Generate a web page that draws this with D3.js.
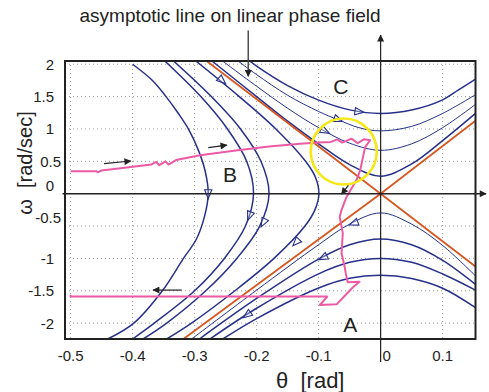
<!DOCTYPE html>
<html>
<head>
<meta charset="utf-8">
<script src="https://cdn.jsdelivr.net/npm/d3@7"></script>
<style>
  body { margin: 0; background: #fff; }
  text { font-family: Arial, "Liberation Sans", Helvetica, sans-serif; fill: #222; white-space: pre; }
</style>
</head>
<body>
<svg id="chart" width="489" height="392"></svg>
<script>
// ---- axis ticks ----
const thetaTicks = [-0.5, -0.4, -0.3, -0.2, -0.1, 0, 0.1];
const omegaTicks = [2, 1.5, 1, 0.5, 0, -0.5, -1, -1.5, -2];

// ---- asymptotes of the linear phase field (theta, omega) ----
const asymptoteFall = [[-0.2806, 2.05], [0, 0], [0.1535, -1.13]];
const asymptoteRise = [[-0.318, -2.245], [0, 0], [0.1535, 1.13]];

// ---- trajectories, region B (swing back) ----
const trajB1 = [[-0.400, 2.00], [-0.368, 1.75], [-0.346, 1.5], [-0.327, 1.25], [-0.310, 1.0], [-0.293, 0.65], [-0.283, 0.35], [-0.278, 0], [-0.284, -0.35], [-0.297, -0.7], [-0.318, -1.0], [-0.352, -1.5], [-0.398, -2.0], [-0.44, -2.245]];
const trajB2 = [[-0.348, 2.05], [-0.29, 1.5], [-0.247, 1.0], [-0.216, 0.5], [-0.205, 0], [-0.218, -0.5], [-0.252, -1.0], [-0.30, -1.5], [-0.365, -2.0], [-0.40, -2.245]];
const trajB3 = [[-0.334, 2.05], [-0.273, 1.5], [-0.226, 1.0], [-0.193, 0.5], [-0.18, 0], [-0.195, -0.5], [-0.232, -1.0], [-0.282, -1.5], [-0.345, -2.0], [-0.383, -2.245]];
const trajB4 = [[-0.298, 2.05], [-0.228, 1.5], [-0.169, 1.0], [-0.121, 0.5], [-0.105, 0.25], [-0.0995, 0], [-0.106, -0.25], [-0.122, -0.5], [-0.172, -1.0], [-0.235, -1.5], [-0.305, -2.0], [-0.345, -2.245]];

// ---- trajectories, region C (pass over the top) ----
const trajC1 = [[-0.211, 2.05], [-0.2, 1.97], [-0.15, 1.67], [-0.1, 1.445], [-0.05, 1.295], [0, 1.24], [0.05, 1.293], [0.1, 1.45], [0.125, 1.6], [0.153, 1.77]];
const trajC2 = [[-0.230, 2.05], [-0.2, 1.84], [-0.15, 1.52], [-0.1, 1.27], [-0.068, 1.14], [-0.035, 1.02], [0, 0.97], [0.05, 1.04], [0.1, 1.24], [0.153, 1.53]];
const trajC3 = [[-0.255, 2.05], [-0.2, 1.66], [-0.15, 1.32], [-0.1, 1.02], [-0.05, 0.78], [0, 0.67], [0.05, 0.77], [0.1, 1.02], [0.153, 1.38]];
const trajC4 = [[-0.272, 2.05], [-0.2, 1.50], [-0.15, 1.12], [-0.1, 0.77], [-0.05, 0.45], [0, 0.27], [0.05, 0.46], [0.1, 0.82], [0.153, 1.24]];

// ---- trajectories, region A (fall backwards) ----
const trajA1 = [[-0.3048, -2.245], [-0.2, -1.49], [-0.1, -0.788], [-0.05, -0.4705], [0, -0.297], [0.05, -0.47], [0.1, -0.80], [0.153, -1.27]];
const trajA2 = [[-0.2922, -2.245], [-0.2, -1.619], [-0.1, -1.011], [-0.05, -0.789], [0, -0.70], [0.05, -0.79], [0.1, -1.03], [0.153, -1.40]];
const trajA3 = [[-0.2753, -2.245], [-0.2, -1.77], [-0.1, -1.238], [-0.05, -1.06], [0, -1.0], [0.05, -1.06], [0.1, -1.24], [0.153, -1.49]];
const trajA4 = [[-0.2545, -2.245], [-0.2, -1.929], [-0.1, -1.456], [-0.05, -1.306], [0, -1.26], [0.05, -1.31], [0.1, -1.46], [0.153, -1.76]];

// ---- measured motion (theta, omega) ----
const measured = [[-0.5, 0.347], [-0.458, 0.347], [-0.456, 0.33], [-0.45, 0.36], [-0.403, 0.414], [-0.37, 0.45], [-0.362, 0.49], [-0.357, 0.44], [-0.347, 0.50], [-0.342, 0.45], [-0.33, 0.52], [-0.291, 0.594], [-0.24, 0.66], [-0.18, 0.73], [-0.13, 0.77], [-0.1, 0.79], [-0.08, 0.80], [-0.07, 0.84], [-0.062, 0.79], [-0.047, 0.85], [-0.037, 0.78], [-0.027, 0.84], [-0.017, 0.826], [-0.025, 0.72], [-0.033, 0.36], [-0.039, 0.21], [-0.047, 0.08], [-0.055, -0.05], [-0.063, -0.25], [-0.066, -0.36], [-0.061, -0.61], [-0.063, -0.92], [-0.058, -1.13], [-0.056, -1.24], [-0.053, -1.37], [-0.034, -1.36], [-0.045, -1.45], [-0.071, -1.71], [-0.098, -1.72], [-0.086, -1.59], [-0.5, -1.59], [-0.5, -1.56]];

// ---- flow direction markers on trajectories: [theta, omega] -> [theta, omega] ----
const flowMarks = [
  [[-0.278, 0.05], [-0.278, -0.05]],
  [[-0.209, -0.28], [-0.214, -0.40]],
  [[-0.186, -0.39], [-0.192, -0.50]],
  [[-0.131, -0.70], [-0.141, -0.80]],
  [[-0.262, 1.80], [-0.25, 1.70]],
  [[-0.045, 1.28], [-0.025, 1.255]],
  [[-0.078, 1.18], [-0.060, 1.11]],
  [[-0.098, 1.01], [-0.082, 0.93]],
  [[-0.036, -0.43], [-0.05, -0.48]],
  [[-0.085, -0.95], [-0.1, -1.02]],
  [[-0.208, -1.82], [-0.222, -1.92]]
];

// ---- hand-drawn black arrows: [from, to] ----
const noteArrows = [
  [[-0.446, 0.465], [-0.403, 0.505]],
  [[-0.278, 0.713], [-0.248, 0.749]],
  [[-0.321, -1.489], [-0.367, -1.489]],
  [[-0.052, 0.13], [-0.063, -0.008]]
];
const calloutArrow = [[-0.2135, 2.52], [-0.2135, 1.815]];
const highlight = { theta: -0.0595, omega: 0.651, r: 0.51 };
const regionLabels = [["C", -0.064, 1.65], ["B", -0.243, 0.30], ["A", -0.049, -2.02]];
const titleText = "asymptotic line on linear phase field";
const xTitle = "\u03b8  [rad]";
const yTitle = "\u03c9  [rad/sec]";

// ---- layout ----
const svg = d3.select("#chart");
const x = d3.scaleLinear().domain([-0.509, 0.153]).range([65, 475.5]);
const y = d3.scaleLinear().domain([-2.245, 2.05]).range([339, 61]);
const navy = "#27308a", orange = "#d8561f", pink = "#ec5aa5";

const defs = svg.append("defs");
defs.append("clipPath").attr("id", "plot")
  .append("rect").attr("x", x(-0.509)).attr("y", y(2.05))
  .attr("width", x(0.153) - x(-0.509)).attr("height", y(-2.245) - y(2.05));
defs.append("marker").attr("id", "blackHead").attr("viewBox", "0 0 10 10")
  .attr("refX", 9).attr("refY", 5).attr("markerWidth", 9).attr("markerHeight", 7)
  .attr("markerUnits", "userSpaceOnUse").attr("orient", "auto")
  .append("path").attr("d", "M0,0L10,5L0,10z").attr("fill", "#222");

// grid
const grid = svg.append("g").attr("stroke", "#9a9a9a").attr("stroke-width", 1).attr("stroke-dasharray", "1,3");
grid.selectAll("line.v").data(thetaTicks).join("line").attr("class", "v")
  .attr("x1", d => x(d)).attr("x2", d => x(d)).attr("y1", y(2.05)).attr("y2", y(-2.245));
grid.selectAll("line.h").data(omegaTicks).join("line").attr("class", "h")
  .attr("y1", d => y(d)).attr("y2", d => y(d)).attr("x1", x(-0.509)).attr("x2", x(0.153));

const plot = svg.append("g").attr("clip-path", "url(#plot)");
const line = d3.line().x(d => x(d[0])).y(d => y(d[1])).curve(d3.curveCatmullRom.alpha(0.5));
const straight = d3.line().x(d => x(d[0])).y(d => y(d[1]));

const thick = [trajB1, trajB2, trajB3, trajB4, trajC1, trajC4, trajA2, trajA3, trajA4];
const thin = [trajC2, trajC3, trajA1];
plot.selectAll("path.thin").data(thin).join("path").attr("class", "thin")
  .attr("d", line).attr("fill", "none").attr("stroke", navy).attr("stroke-width", 1);
plot.selectAll("path.thick").data(thick).join("path").attr("class", "thick")
  .attr("d", line).attr("fill", "none").attr("stroke", navy).attr("stroke-width", 1.5);

plot.selectAll("path.asym").data([asymptoteFall, asymptoteRise]).join("path").attr("class", "asym")
  .attr("d", straight).attr("fill", "none").attr("stroke", orange).attr("stroke-width", 1.8);

// open triangular flow markers
plot.selectAll("path.flow").data(flowMarks).join("path").attr("class", "flow")
  .attr("d", "M5,0L-4,-3.6L-4,3.6Z")
  .attr("transform", d => {
    const [p, q] = d;
    const cx = (x(p[0]) + x(q[0])) / 2, cy = (y(p[1]) + y(q[1])) / 2;
    const ang = Math.atan2(y(q[1]) - y(p[1]), x(q[0]) - x(p[0])) * 180 / Math.PI;
    return `translate(${cx},${cy}) rotate(${ang})`;
  })
  .attr("fill", "#fff").attr("fill-opacity", 0.3).attr("stroke", navy).attr("stroke-width", 1.1);

// measured path
svg.append("path").datum(measured).attr("d", straight).attr("fill", "none")
  .attr("stroke", pink).attr("stroke-width", 2).attr("stroke-linejoin", "round");

// highlight ring
svg.append("circle").attr("cx", x(highlight.theta)).attr("cy", y(highlight.omega))
  .attr("r", y(0) - y(highlight.r)).attr("fill", "none").attr("stroke", "#f4e81a").attr("stroke-width", 2.6);

// frame
svg.append("rect").attr("x", x(-0.509)).attr("y", y(2.05))
  .attr("width", x(0.153) - x(-0.509)).attr("height", y(-2.245) - y(2.05))
  .attr("fill", "none").attr("stroke", "#222").attr("stroke-width", 2);

// coordinate axes through the origin
svg.append("line").attr("x1", x(-0.513)).attr("x2", x(0.170)).attr("y1", y(0)).attr("y2", y(0))
  .attr("stroke", "#222").attr("stroke-width", 1.4).attr("marker-end", "url(#blackHead)");
svg.append("line").attr("x1", x(0)).attr("x2", x(0)).attr("y1", y(-2.6)).attr("y2", y(2.45))
  .attr("stroke", "#222").attr("stroke-width", 1.2).attr("marker-end", "url(#blackHead)");

// notes
svg.selectAll("line.note").data(noteArrows).join("line").attr("class", "note")
  .attr("x1", d => x(d[0][0])).attr("y1", d => y(d[0][1])).attr("x2", d => x(d[1][0])).attr("y2", d => y(d[1][1]))
  .attr("stroke", "#222").attr("stroke-width", 1.2).attr("marker-end", "url(#blackHead)");
svg.append("line").attr("x1", x(calloutArrow[0][0])).attr("y1", y(calloutArrow[0][1]))
  .attr("x2", x(calloutArrow[1][0])).attr("y2", y(calloutArrow[1][1]))
  .attr("stroke", "#444").attr("stroke-width", 1.4).attr("marker-end", "url(#blackHead)");

svg.append("text").attr("x", 230).attr("y", 22).attr("text-anchor", "middle")
  .attr("font-size", 19).text(titleText);

svg.selectAll("text.region").data(regionLabels).join("text").attr("class", "region")
  .attr("x", d => x(d[1])).attr("y", d => y(d[2])).attr("text-anchor", "middle")
  .attr("dy", "0.36em").attr("font-size", 21).text(d => d[0]);

// tick labels (the two next to the theta axis are nudged up off the axis line)
svg.selectAll("text.yt").data(omegaTicks).join("text").attr("class", "yt")
  .attr("x", d => (Math.abs(d) === 0.5 ? 61 : 54))
  .attr("y", d => y(d) - (d === 0 || d === -0.5 ? 8 : 0)).attr("dy", "0.36em")
  .attr("text-anchor", "end").attr("font-size", 15).text(d => String(d));
svg.selectAll("text.xt").data(thetaTicks).join("text").attr("class", "xt")
  .attr("x", d => x(d) + (d === 0 ? 6 : 0)).attr("y", 361).attr("text-anchor", "middle")
  .attr("font-size", 15).text(d => String(d));

// axis titles
svg.append("text").attr("x", 276).attr("y", 388).attr("text-anchor", "start").attr("font-size", 22)
  .text(xTitle);
svg.append("text").attr("transform", "translate(32,163) rotate(-90)").attr("text-anchor", "middle")
  .attr("font-size", 20).text(yTitle);
</script>
</body>
</html>
